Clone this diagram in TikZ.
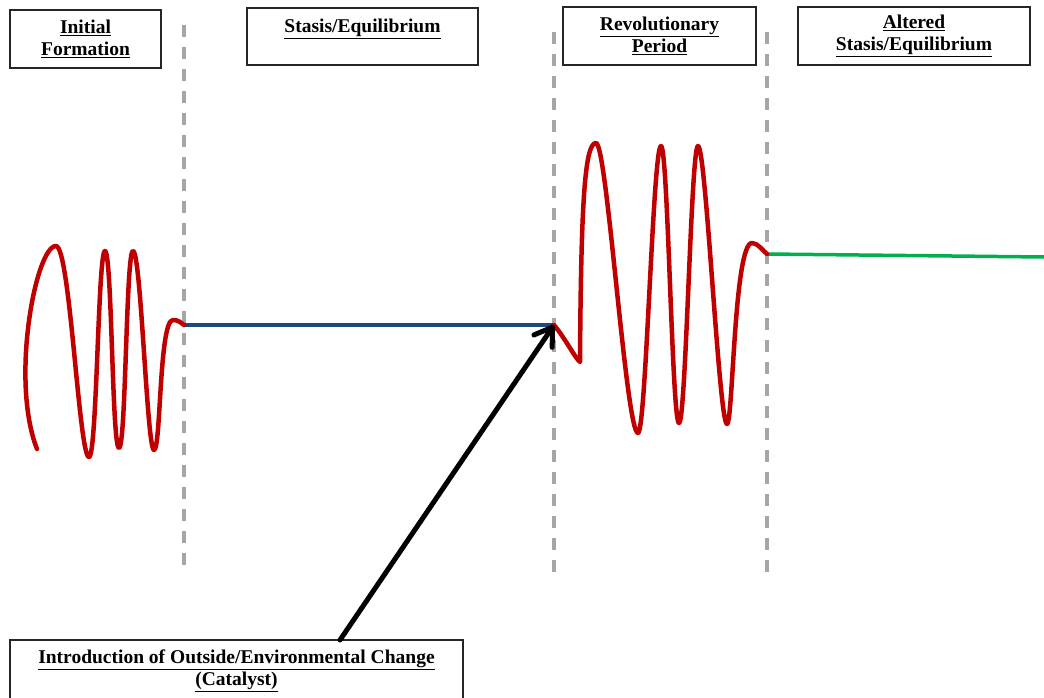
\documentclass[tikz,border=0pt]{standalone}
\usepackage{fontspec}
\setmainfont{Liberation Serif}
\usetikzlibrary{arrows.meta}
\definecolor{wred}{RGB}{192,0,0}
\definecolor{wblue}{RGB}{31,73,125}
\definecolor{wgreen}{RGB}{0,176,80}
\definecolor{dgray}{RGB}{166,166,166}
\tikzset{
  label box/.style={draw=black!85, line width=1.3pt, fill=white, align=center,
    font=\fontsize{19.5}{22}\selectfont\bfseries, inner sep=0pt},
  divider/.style={dgray, line width=3.5pt, dash pattern=on 12pt off 10pt},
  wave/.style={wred, line width=4.5pt, line cap=round, line join=round},
}
\begin{document}
\begin{tikzpicture}[x=1pt,y=-1pt]
\useasboundingbox (0,0) rectangle (1044,698);
\clip (0,0) rectangle (1044,698);

% boxes
\node[label box, minimum width=151pt, minimum height=58pt] (init) at (85.5,39)
  {\underline{Initial}\\\underline{Formation}};
\node[label box, minimum width=231pt, minimum height=57pt] (stasis) at (362.5,36.5)
  {\underline{Stasis/Equilibrium}\\\mbox{}};
\node[label box, minimum width=193pt, minimum height=58pt] (revol) at (659.5,36)
  {\underline{Revolutionary}\\\underline{Period}};
\node[label box, minimum width=232pt, minimum height=58pt] (alter) at (914,36)
  {\underline{Altered}\\\underline{Stasis/Equilibrium}};
\node[label box, minimum width=453pt, minimum height=62pt] (catal) at (236.5,671)
  {\underline{Introduction of Outside/Environmental Change}\\\underline{(Catalyst)}};

% dividers
\coordinate (d1t) at (184,25);  \coordinate (d1b) at (184,572);
\coordinate (d2t) at (554,32);  \coordinate (d2b) at (554,578);
\coordinate (d3t) at (767,32);  \coordinate (d3b) at (767,578);
\draw[divider] (d1t) -- (d1b);
\draw[divider] (d2t) -- (d2b);
\draw[divider] (d3t) -- (d3b);

% level lines
\coordinate (s1) at (184,325);
\coordinate (s2) at (554,325);
\coordinate (g1) at (767,254);
\coordinate (g2) at (1044,257);
\draw[wblue, line width=3.5pt] (s1) -- (s2);
\draw[wgreen, line width=3.5pt] (g1) -- (g2);

% first wave
\draw[wave] (37,449) .. controls (10,380) and (36,246) .. (56,246)
  .. controls +(14,0) and +(-10,0) .. (89,457)
  .. controls +(8,0) and +(-7,0) .. (105,251)
  .. controls +(7,0) and +(-7,0) .. (119,448)
  .. controls +(7,0) and +(-7,0) .. (133,251)
  .. controls +(8,0) and +(-7,0) .. (154,450)
  .. controls (161,450) and (159,320) .. (173,320)
  .. controls +(5,0) and +(-4,-3) .. (s1);

% second wave
\draw[wave] (s2) .. controls (565,338) and (575,358) .. (580,362)
  .. controls (581,200) and (585,143) .. (596,143)
  .. controls +(11,0) and +(-12,0) .. (638,433)
  .. controls +(8,0) and +(-8,0) .. (661,146)
  .. controls +(7,0) and +(-7,0) .. (679,423)
  .. controls +(7,0) and +(-7,0) .. (698,146)
  .. controls +(8,0) and +(-8,0) .. (727,424)
  .. controls (733,424) and (734,243) .. (752,243)
  .. controls +(6,0) and +(-4,-3) .. (g1);

% catalyst arrow
\coordinate (tail) at (340,640);
\draw[black, line width=5pt, line cap=round,
  -{Straight Barb[length=17pt,width=22pt,round]}] (tail) -- (s2);
\end{tikzpicture}
\end{document}
